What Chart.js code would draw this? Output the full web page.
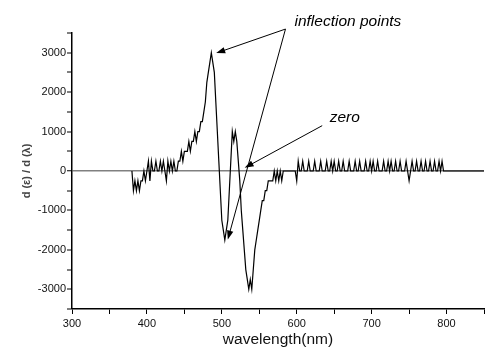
<!DOCTYPE html>
<html>
<head>
<meta charset="utf-8">
<script src="https://cdn.jsdelivr.net/npm/chart.js@4"></script>
<style>
  html, body { margin: 0; padding: 0; background: #fff; }
  #wrap { width: 489px; height: 347px; position: relative; }
</style>
</head>
<body>
<div id="wrap"><canvas id="chart"></canvas></div>
<script>
// wavelength (nm), every 2 nm
const wavelengths = [
  380, 382, 384, 386, 388, 390, 392, 394, 396, 398,
  400, 402, 404, 406, 408, 410, 412, 414, 416, 418,
  420, 422, 424, 426, 428, 430, 432, 434, 436, 438,
  440, 442, 444, 446, 448, 450, 452, 454, 456, 458,
  460, 462, 464, 466, 468, 470, 472, 474, 476, 478,
  480, 482, 484, 486, 488, 490, 492, 494, 496, 498,
  500, 502, 504, 506, 508, 510, 512, 514, 516, 518,
  520, 522, 524, 526, 528, 530, 532, 534, 536, 538,
  540, 542, 544, 546, 548, 550, 552, 554, 556, 558,
  560, 562, 564, 566, 568, 570, 572, 574, 576, 578,
  580, 582, 584, 586, 588, 590, 592, 594, 596, 598,
  600, 602, 604, 606, 608, 610, 612, 614, 616, 618,
  620, 622, 624, 626, 628, 630, 632, 634, 636, 638,
  640, 642, 644, 646, 648, 650, 652, 654, 656, 658,
  660, 662, 664, 666, 668, 670, 672, 674, 676, 678,
  680, 682, 684, 686, 688, 690, 692, 694, 696, 698,
  700, 702, 704, 706, 708, 710, 712, 714, 716, 718,
  720, 722, 724, 726, 728, 730, 732, 734, 736, 738,
  740, 742, 744, 746, 748, 750, 752, 754, 756, 758,
  760, 762, 764, 766, 768, 770, 772, 774, 776, 778,
  780, 782, 784, 786, 788, 790, 792, 794, 796, 798,
  800, 850
];

// d(e)/d(lambda)
const derivative = [
  0, -500, -250, -500, -250, -500, -250, -250, 0, -250,
  0, 250, -250, 250, 0, 0, 250, 0, 0, 250,
  0, 250, 0, -250, 250, 0, 250, 0, 250, 0,
  0, 250, 250, 500, 250, 500, 500, 500, 750, 500,
  750, 750, 1000, 750, 1000, 1000, 1250, 1250, 1500, 1750,
  2250, 2500, 2750, 3000, 2750, 2500, 1750, 1000, 250, -500,
  -1250, -1500, -1750, -1500, -1250, -500, 250, 1000, 750, 1000,
  750, 250, -250, -1000, -1500, -2000, -2500, -2750, -3000, -2750,
  -3000, -2500, -2000, -1750, -1500, -1250, -1000, -750, -750, -500,
  -500, -250, -250, -250, -250, 0, -250, 0, -250, 0,
  -250, 0, 0, 0, 0, 0, 0, 0, 0, 0,
  -250, 250, 0, 0, 250, 0, 0, 0, 250, 0,
  0, 0, 250, 0, 0, 0, 250, 0, 0, 0,
  250, 0, 0, 250, 0, 250, 0, 0, 250, 0,
  0, 250, 0, 0, 0, 250, 0, 0, 0, 250,
  0, 0, 250, 0, 0, 0, 250, 0, 0, 250,
  0, 250, 0, 0, 250, 0, 0, 0, 250, 0,
  0, 250, 0, 250, 0, 0, 250, 0, 0, 250,
  0, 0, 0, 250, 0, -250, 0, 250, 0, 0,
  250, 0, 0, 250, 0, 0, 250, 0, 0, 250,
  0, 0, 250, 0, 0, 250, 0, 250, 0, 0,
  0, 0
];

const xTicks = [300, 350, 400, 450, 500, 550, 600, 650, 700, 750, 800, 850];
const xTickLabels = [300, 400, 500, 600, 700, 800];
const yTicks = [-3500, -3000, -2500, -2000, -1500, -1000, -500, 0, 500, 1000, 1500, 2000, 2500, 3000, 3500];
const yTickLabels = [-3000, -2000, -1000, 0, 1000, 2000, 3000];

// callouts, in data units (nm, value)
const arrows = [
  { from: [585, 3600], to: [492.5, 2990] },
  { from: [585, 3600], to: [508, -1740] },
  { from: [634, 1150], to: [530.5, 80] }
];
const notes = [
  { text: "inflection points", at: [597, 3690] },
  { text: "zero", at: [644, 1250] }
];

const FONT = "'Liberation Sans', Arial, sans-serif";

const callouts = {
  id: "callouts",
  afterDatasetsDraw(chart) {
    const { ctx, scales: { x, y } } = chart;
    ctx.save();
    ctx.strokeStyle = "#000";
    ctx.fillStyle = "#000";
    ctx.lineWidth = 1;
    arrows.forEach(a => {
      const x0 = x.getPixelForValue(a.from[0]);
      const y0 = y.getPixelForValue(a.from[1]);
      const x1 = x.getPixelForValue(a.to[0]);
      const y1 = y.getPixelForValue(a.to[1]);
      const ang = Math.atan2(y1 - y0, x1 - x0);
      const len = 9, half = 3.2;
      ctx.beginPath();
      ctx.moveTo(x0, y0);
      ctx.lineTo(x1 - Math.cos(ang) * len * 0.8, y1 - Math.sin(ang) * len * 0.8);
      ctx.stroke();
      ctx.beginPath();
      ctx.moveTo(x1, y1);
      ctx.lineTo(x1 - Math.cos(ang) * len - Math.sin(ang) * half, y1 - Math.sin(ang) * len + Math.cos(ang) * half);
      ctx.lineTo(x1 - Math.cos(ang) * len + Math.sin(ang) * half, y1 - Math.sin(ang) * len - Math.cos(ang) * half);
      ctx.closePath();
      ctx.fill();
    });
    ctx.font = "italic 15.5px " + FONT;
    ctx.textBaseline = "alphabetic";
    ctx.textAlign = "left";
    notes.forEach(n => {
      ctx.fillText(n.text, x.getPixelForValue(n.at[0]), y.getPixelForValue(n.at[1]));
    });
    ctx.restore();
  }
};

new Chart(document.getElementById("chart"), {
  type: "line",
  data: {
    datasets: [
      {
        data: wavelengths.map((w, i) => ({ x: w, y: derivative[i] })),
        borderColor: "#000",
        borderWidth: 1.2,
        pointRadius: 0,
        tension: 0,
        fill: false
      }
    ]
  },
  options: {
    responsive: true,
    maintainAspectRatio: false,
    animation: false,
    layout: {
      padding: { top: 33, right: 5, left: 0, bottom: 0 }
    },
    plugins: {
      legend: { display: false },
      tooltip: { enabled: false }
    },
    scales: {
      x: {
        type: "linear",
        min: 300,
        max: 850,
        afterFit: s => { s.height = 38; },
        afterBuildTicks: s => { s.ticks = xTicks.map(v => ({ value: v })); },
        border: { color: "#000", width: 1.5 },
        grid: {
          drawOnChartArea: false,
          tickLength: 5,
          tickColor: "#000",
          tickWidth: 1
        },
        ticks: {
          autoSkip: false,
          maxRotation: 0,
          padding: 3,
          color: "#111",
          font: { family: FONT, size: 11 },
          callback: v => xTickLabels.includes(v) ? String(v) : ""
        },
        title: {
          display: true,
          text: "wavelength(nm)",
          color: "#111",
          font: { family: FONT, size: 15.5, lineHeight: 1 },
          padding: { top: 0, bottom: 0 }
        }
      },
      y: {
        min: -3500,
        max: 3500,
        afterFit: s => { s.width = 72; },
        afterBuildTicks: s => { s.ticks = yTicks.map(v => ({ value: v })); },
        border: { color: "#000", width: 1.5 },
        grid: {
          drawOnChartArea: true,
          color: c => c.tick && c.tick.value === 0 ? "#808080" : "rgba(0,0,0,0)",
          lineWidth: c => c.tick && c.tick.value === 0 ? 1.5 : 0,
          tickLength: 5,
          tickColor: "#000",
          tickWidth: 1
        },
        ticks: {
          autoSkip: false,
          padding: 1,
          color: "#111",
          font: { family: FONT, size: 11 },
          callback: v => yTickLabels.includes(v) ? String(v) : ""
        },
        title: {
          display: true,
          text: "d (ε) / d (λ)",
          color: "#444",
          font: { family: FONT, size: 11, weight: "bold", lineHeight: 1 },
          padding: { top: 21, bottom: 0 }
        }
      }
    }
  },
  plugins: [callouts]
});
</script>
</body>
</html>
